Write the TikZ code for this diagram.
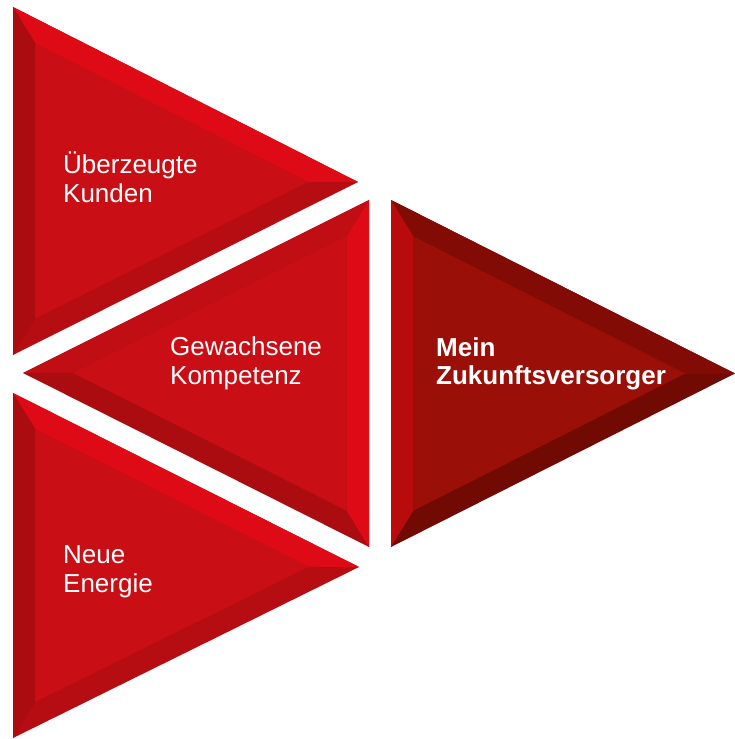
\documentclass[tikz,border=0pt]{standalone}
\usepackage{fontspec}
\setmainfont{Liberation Sans}
\usetikzlibrary{calc}

\definecolor{redface}{HTML}{CA0E15}
\definecolor{redtop}{HTML}{DE0B17}
\definecolor{redmid}{HTML}{C10E14}
\definecolor{redleft}{HTML}{AA0C0F}
\definecolor{redlow}{HTML}{B50D12}
\definecolor{darkface}{HTML}{9A1008}
\definecolor{darkleft}{HTML}{B80C0C}
\definecolor{darktop}{HTML}{820C05}
\definecolor{darklow}{HTML}{720A04}

\begin{document}
\begin{tikzpicture}[x=1pt, y=-1pt, every node/.style={text=white, align=left, inner sep=0pt, anchor=base west}]
	\tikzstyle{label} = [font=\fontsize{26}{28.5}\selectfont]
	\tikzstyle{boldlabel} = [font=\fontsize{26}{27.5}\selectfont\bfseries]
	\useasboundingbox (0,0) rectangle (735,739);
	
	% corners of the four triangles (T = top, M = middle, B = bottom, R = right)
	\coordinate (T1) at (13,7);   \coordinate (T2) at (13,355);  \coordinate (T3) at (358,182); \coordinate (Tc) at (120,181);
	\coordinate (M1) at (369,200); \coordinate (M2) at (369,547); \coordinate (M3) at (23,373);  \coordinate (Mc) at (262,373.5);
	\coordinate (B1) at (13,393);  \coordinate (B2) at (13,738);  \coordinate (B3) at (359,567); \coordinate (Bc) at (119.8,565.5);
	\coordinate (R1) at (391,200); \coordinate (R2) at (391,547);  \coordinate (R3) at (735,373.5); \coordinate (Rc) at (497.8,373.5);
	\foreach \t in {T,M,B,R}
		\foreach \i in {1,2,3}
			\coordinate (\t\i i) at ($(\t c)!0.79!(\t\i)$);
	
	% top triangle
	\fill[redlow] (T1) -- (T2) -- (T3) -- cycle;
	\fill[redtop] (T1) -- (T3) -- (T3i) -- (T1i) -- cycle;
	\fill[redleft] (T1) -- (T2) -- (T2i) -- (T1i) -- cycle;
	\fill[redface] (T1i) -- (T2i) -- (T3i) -- cycle;
	
	% middle triangle
	\fill[redleft] (M1) -- (M2) -- (M3) -- cycle;
	\fill[redtop] (M1) -- (M2) -- (M2i) -- (M1i) -- cycle;
	\fill[redmid] (M1) -- (M3) -- (M3i) -- (M1i) -- cycle;
	\fill[redface] (M1i) -- (M2i) -- (M3i) -- cycle;
	
	% bottom triangle
	\fill[redlow] (B1) -- (B2) -- (B3) -- cycle;
	\fill[redtop] (B1) -- (B3) -- (B3i) -- (B1i) -- cycle;
	\fill[redleft] (B1) -- (B2) -- (B2i) -- (B1i) -- cycle;
	\fill[redface] (B1i) -- (B2i) -- (B3i) -- cycle;
	
	% right triangle
	\fill[darklow] (R1) -- (R2) -- (R3) -- cycle;
	\fill[darktop] (R1) -- (R3) -- (R3i) -- (R1i) -- cycle;
	\fill[darkleft] (R1) -- (R2) -- (R2i) -- (R1i) -- cycle;
	\fill[darkface] (R1i) -- (R2i) -- (R3i) -- cycle;
	
	\node[label] (kunden) at (63,202) {Überzeugte\\Kunden};
	\node[label] (kompetenz) at (170,384) {Gewachsene\\Kompetenz};
	\node[label] (energie) at (63,592) {Neue\\Energie};
	\node[boldlabel] (versorger) at (436,384) {Mein\\Zukunftsversorger};
\end{tikzpicture}
\end{document}
